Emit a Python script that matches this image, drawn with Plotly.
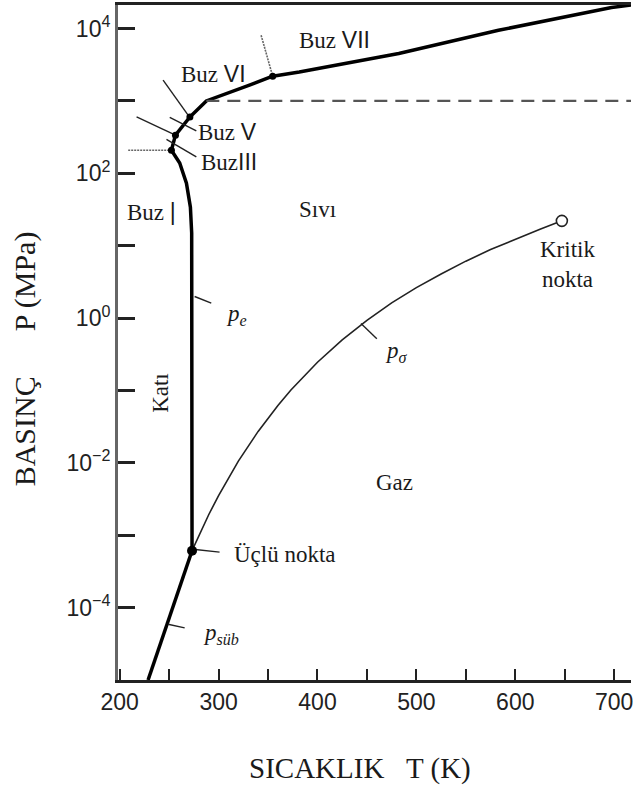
import math
import plotly.graph_objects as go

# ---------------- data (T in K, P in MPa) ----------------
T_sub = [228.7, 247.6, 273.16]
P_sub = [1.0e-5, 5.8e-5, 6.1e-4]

T_melt = [273.16, 273.0, 272.8, 271.5, 267.5, 260.7, 252.3]
P_melt = [6.1e-4, 1.0, 15.0, 34.0, 73.0, 139.0, 209.0]

T_ice_iii_v = [252.3, 256.4]
P_ice_iii_v = [209.0, 337.0]

T_ice_v_vi = [256.4, 271.0]
P_ice_v_vi = [337.0, 600.0]

T_ice_vi = [271.0, 287.6, 331.2, 354.7]
P_ice_vi = [600.0, 1000.0, 1650.0, 2200.0]

T_ice_vii = [354.7, 381.6, 482.2, 583.0, 697.3, 720.0]
P_ice_vii = [2200.0, 2518.0, 4518.0, 9480.0, 19500.0, 21500.0]

T_vap = [273.16, 280, 290, 300, 320, 340, 360, 373.15, 400, 425, 450,
         475, 500, 525, 550, 575, 600, 625, 647.1]
P_vap = [6.117e-4, 9.9e-4, 1.92e-3, 3.54e-3, 1.055e-2, 2.72e-2, 6.22e-2,
         0.1014, 0.2458, 0.50, 0.932, 1.62, 2.639, 4.07, 6.12, 8.85,
         12.34, 16.9, 22.06]

T_dash = [287.6, 720.0]
P_dash = [1000.0, 1000.0]

T_triple, P_triple = 273.16, 6.1e-4
T_crit, P_crit = 647.1, 22.06
T_phase_pts = [252.3, 256.4, 271.0, 354.7]
P_phase_pts = [209.0, 337.0, 600.0, 2200.0]

# short boundary stubs and label pointers: (T0, P0, T1, P1)
stubs_solid = [
    (243.9, 1936.0, 270.8, 592.0),   # V-VI boundary
    (217.1, 604.0, 256.4, 337.0),    # III-V boundary
    (250.6, 592.0, 277.5, 387.0),    # Buz V pointer
    (247.3, 294.0, 277.5, 169.0),    # Buz III pointer
    (275.8, 1.99, 292.6, 1.61),      # p_e pointer
    (444.0, 0.84, 460.0, 0.52),      # p_sigma pointer
    (274.1, 6.4e-4, 301.0, 5.85e-4), # triple point pointer
    (248.9, 5.9e-5, 265.7, 5.25e-5), # p_sub pointer
]
stubs_dotted = [
    (208.6, 209.0, 252.3, 209.0),    # I-III
    (343.0, 8090.0, 354.7, 2200.0),  # VI-VII
]

labels = [
    ("Buz <span style='font-family:Liberation Sans'>VII</span>", 416.9, 6900.0),
    ("Buz <span style='font-family:Liberation Sans'>VI</span>", 294.5, 2345.0),
    ("Buz <span style='font-family:Liberation Sans'>V</span>", 308.6, 375.0),
    ("Buz<span style='font-family:Liberation Sans'>III</span>", 310.1, 144.0),
    ("Buz <span style='font-family:Liberation Sans'>|</span>", 232.5, 29.5),
    ("Sıvı", 399.7, 31.2),
    ("Kritik<br>nokta", 652.9, 5.43),
    ("<i>p</i><sub><i>e</i></sub>", 317.8, 1.11),
    ("Gaz", 477.5, 5.35e-3),
    ("Üçlü nokta", 366.8, 5.43e-4),
    ("<i>p</i><sub><i>süb</i></sub>", 302.7, 4.29e-5),
    ("<i>p</i><sub><i>σ</i></sub>", 479.5, 0.343),
]
label_kati = ("Katı", 240.6, 0.0923)

x_tickvals = [200, 250, 300, 350, 400, 450, 500, 550, 600, 650, 700]
x_ticktext = ["200", "", "300", "", "400", "", "500", "", "600", "", "700"]
y_tickvals = [1e-5, 1e-4, 1e-3, 1e-2, 1e-1, 1e0, 1e1, 1e2, 1e3, 1e4]
y_ticktext = ["", "10<sup>−4</sup>", "", "10<sup>−2</sup>", "", "10<sup>0</sup>",
              "", "10<sup>2</sup>", "", "10<sup>4</sup>"]

# ---------------- figure ----------------
SERIF = "Liberation Serif, Times New Roman, serif"
SANS = "Liberation Sans, Arial, sans-serif"
INK = "#1a1a1a"

fig = go.Figure()

def line(T, P, width, color="black", dash=None):
    fig.add_trace(go.Scatter(x=T, y=P, mode="lines",
                             line=dict(color=color, width=width, dash=dash),
                             hoverinfo="skip", showlegend=False))

line(T_vap, P_vap, 1.6, "#222")
line(T_sub, P_sub, 3.5)
line(T_melt, P_melt, 3.5)
line(T_ice_iii_v, P_ice_iii_v, 3.5)
line(T_ice_v_vi, P_ice_v_vi, 3.5)
line(T_ice_vi, P_ice_vi, 3.5)
line(T_ice_vii, P_ice_vii, 3.5)
line(T_dash, P_dash, 2.2, "#555", "13px,8px")

for (t0, p0, t1, p1) in stubs_solid:
    line([t0, t1], [p0, p1], 1.4, "#222")
for (t0, p0, t1, p1) in stubs_dotted:
    line([t0, t1], [p0, p1], 1.6, "#666", "2px,1px")

fig.add_trace(go.Scatter(x=T_phase_pts, y=P_phase_pts, mode="markers",
                         marker=dict(color="black", size=7),
                         hoverinfo="skip", showlegend=False))
fig.add_trace(go.Scatter(x=[T_triple], y=[P_triple], mode="markers",
                         marker=dict(color="black", size=10),
                         hoverinfo="skip", showlegend=False))
fig.add_trace(go.Scatter(x=[T_crit], y=[P_crit], mode="markers",
                         marker=dict(color="white", size=11,
                                     line=dict(color="#222", width=1.6)),
                         hoverinfo="skip", showlegend=False, cliponaxis=False))

for text, t, p in labels:
    fig.add_annotation(x=t, y=math.log10(p), text=text, showarrow=False,
                       font=dict(family=SERIF, size=23, color=INK),
                       xanchor="center", yanchor="middle")
fig.add_annotation(x=label_kati[1], y=math.log10(label_kati[2]), text=label_kati[0],
                   showarrow=False, textangle=-90,
                   font=dict(family=SERIF, size=23, color=INK),
                   xanchor="center", yanchor="middle")

# axis titles
fig.add_annotation(xref="paper", yref="paper", x=(361 - 118) / 515, y=-(769 - 680.5) / 676,
                   text="SICAKLIK&nbsp;&nbsp;&nbsp;T (K)", showarrow=False,
                   font=dict(family=SERIF, size=29, color=INK),
                   xanchor="center", yanchor="middle")
fig.add_annotation(xref="paper", yref="paper", x=-(118 - 25) / 515, y=(680.5 - 359) / 676,
                   text="BASINÇ&nbsp;&nbsp;&nbsp;&nbsp;&nbsp;&nbsp;P (MPa)", showarrow=False,
                   textangle=-90,
                   font=dict(family=SERIF, size=30, color=INK),
                   xanchor="center", yanchor="middle")

fig.update_xaxes(range=[198.3, 717.0], tickvals=x_tickvals, ticktext=x_ticktext,
                 ticks="inside", ticklen=11, tickwidth=2, tickcolor="#222",
                 showline=True, linecolor="#222", linewidth=2.5, mirror=True,
                 showgrid=False, zeroline=False, ticklabeloverflow="allow",
                 tickfont=dict(family=SANS, size=23, color="#222"))
fig.update_yaxes(type="log", range=[-5.0, 4.326], tickvals=y_tickvals, ticktext=y_ticktext,
                 ticks="inside", ticklen=17, tickwidth=2.5, tickcolor="#222",
                 showline=True, linecolor="#666", linewidth=3, mirror=False,
                 showgrid=False, zeroline=False,
                 tickfont=dict(family=SANS, size=23, color="#222"))

fig.update_layout(width=633, height=787,
                  margin=dict(l=118, r=0, t=5, b=106.5),
                  paper_bgcolor="white", plot_bgcolor="white",
                  showlegend=False)

fig.write_html("out.html", config={"displayModeBar": False},
               post_script="document.body.style.margin='0';document.body.style.overflow='hidden';")
